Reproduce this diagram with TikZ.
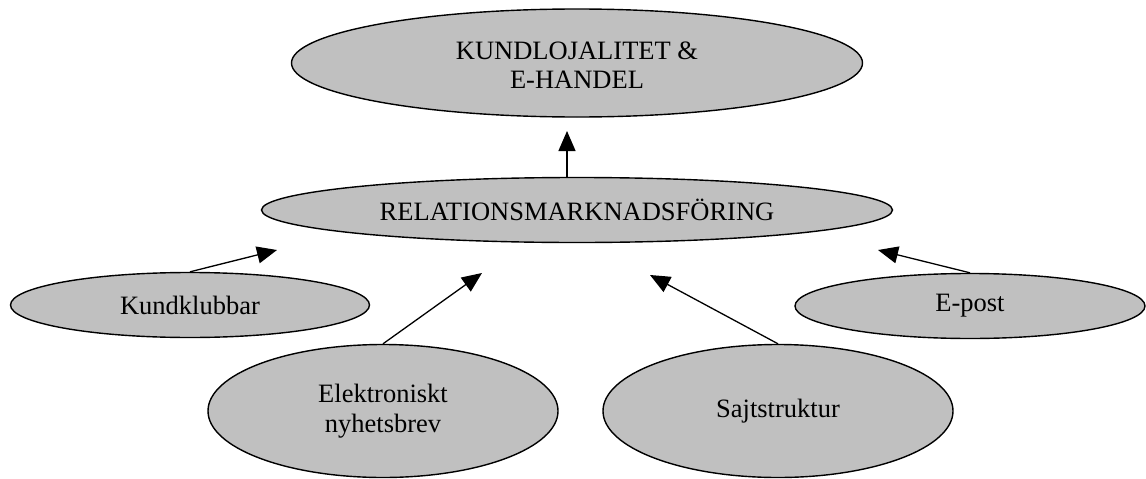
\documentclass[tikz,border=0pt]{standalone}
\usepackage{fontspec}
\setmainfont{Liberation Serif}
\usetikzlibrary{shapes.geometric,arrows.meta}
\definecolor{ovalfill}{HTML}{C0C0C0}
\tikzset{
  oval/.style={ellipse, draw=black, line width=1.4pt, fill=ovalfill, inner sep=0pt,
    align=center, font=\fontsize{26.5}{29.5}\selectfont},
  link/.style={line width=1.3pt, -{Triangle[length=20pt,width=17pt]}}
}
\begin{document}
\begin{tikzpicture}[x=1pt,y=-1pt]
\useasboundingbox (0,0) rectangle (1146,479);
\node[oval, minimum width=571pt, minimum height=108pt] (top) at (577,63) {\raisebox{-5pt}[\height][\depth]{\begin{tabular}{@{}c@{}}KUNDLOJALITET \&\\E-HANDEL\end{tabular}}};
\node[oval, minimum width=631pt, minimum height=65pt] (mid) at (577,210) {RELATIONSMARKNADSFÖRING};
\node[oval, minimum width=359pt, minimum height=65pt] (kund) at (190,305) {Kundklubbar};
\node[oval, minimum width=350pt, minimum height=65pt] (epost) at (970,306) {E-post};
\node[oval, minimum width=350pt, minimum height=133pt] (elek) at (383,411) {Elektroniskt\\nyhetsbrev};
\node[oval, minimum width=350pt, minimum height=133pt] (sajt) at (778,411) {Sajtstruktur};
\coordinate (midtop) at (567,178);
\coordinate (ttop) at (567,131);
\coordinate (tkund) at (277,250);
\coordinate (telek) at (482,273);
\coordinate (tsajt) at (650,275);
\coordinate (tepost) at (878,250);
\draw[link] (midtop) -- (ttop);
\draw[link] (kund.north) -- (tkund);
\draw[link] (elek.north) -- (telek);
\draw[link] (sajt.north) -- (tsajt);
\draw[link] (epost.north) -- (tepost);
\end{tikzpicture}
\end{document}
